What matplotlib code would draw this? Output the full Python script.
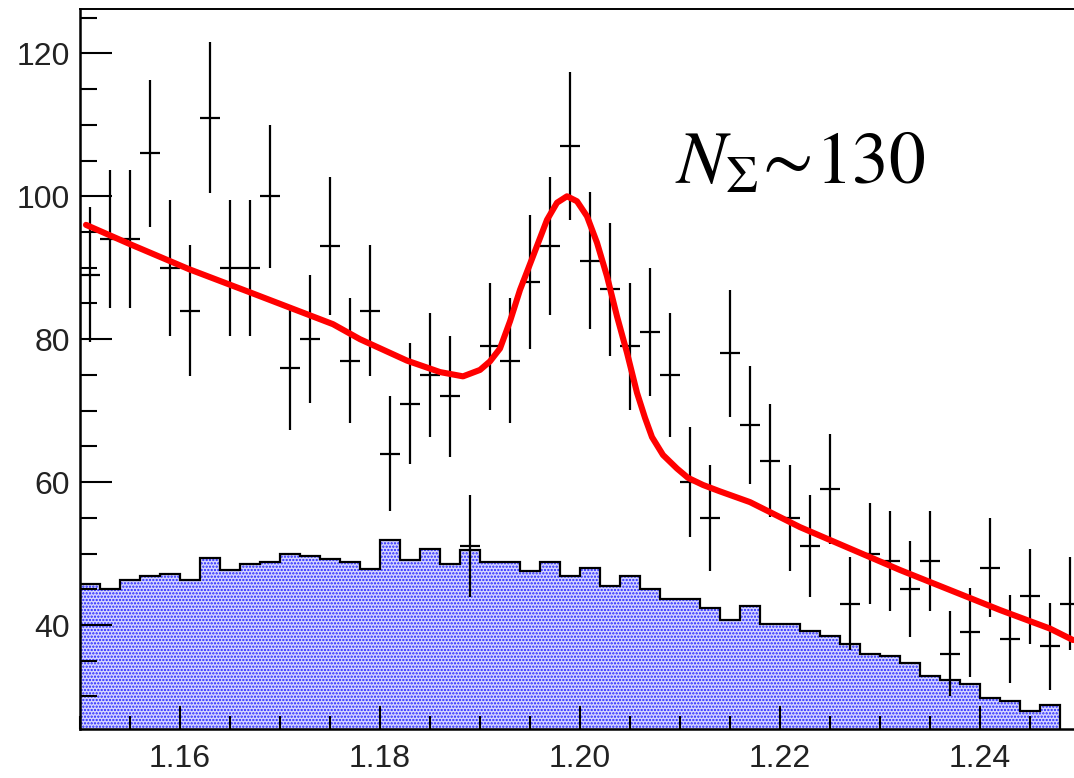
import numpy as np
import matplotlib
matplotlib.use("Agg")
import matplotlib.pyplot as plt
from matplotlib.ticker import MultipleLocator, FixedLocator, FormatStrFormatter

# ---- data ----
bin_edges = np.round(np.arange(1.150, 1.2501, 0.002), 4)
data_counts = [89, 94, 94, 106, 90, 84, 111, 90, 90, 100,
               76, 80, 93, 77, 84, 64, 71, 75, 72, 51,
               79, 77, 88, 93, 107, 91, 87, 79, 81, 75,
               60, 55, 78, 68, 63, 55, 51, 59, 43, 50,
               49, 45, 49, 36, 39, 48, 38, 44, 37, 43]
mc_counts = [45.8, 45.1, 46.3, 46.9, 47.2, 46.3, 49.4, 47.7, 48.5, 48.8,
             49.9, 49.6, 49.3, 48.8, 47.9, 51.9, 49.1, 50.6, 48.6, 50.5,
             48.8, 48.8, 47.5, 48.8, 46.9, 48.0, 45.5, 46.8, 45.0, 43.6,
             43.6, 42.4, 40.7, 42.7, 40.2, 40.2, 39.2, 38.4, 37.4, 35.9,
             35.6, 34.7, 32.9, 32.3, 31.7, 29.8, 29.4, 27.9, 28.8, 0.0]
fit_x = [1.1506, 1.1550, 1.1609, 1.1671, 1.1753, 1.1780, 1.1827, 1.1860,
         1.1883, 1.1900, 1.1910, 1.1920, 1.1930, 1.1940, 1.1953, 1.1967,
         1.1977, 1.1987, 1.1997, 1.2007, 1.2017, 1.2027, 1.2037, 1.2047,
         1.2057, 1.2065, 1.2072, 1.2083, 1.2097, 1.2108, 1.2123, 1.2140,
         1.2170, 1.2220, 1.2270, 1.2320, 1.2370, 1.2420, 1.2470, 1.2493]
fit_y = [96.0, 93.3, 89.8, 86.5, 82.1, 80.0, 77.0, 75.4,
         74.8, 75.7, 76.9, 78.7, 82.5, 86.9, 91.6, 96.7,
         99.1, 100.0, 99.3, 97.2, 93.5, 88.8, 83.2, 78.1,
         72.5, 69.0, 66.3, 63.8, 61.9, 60.6, 59.6, 58.7,
         57.2, 53.7, 50.7, 47.7, 44.9, 42.1, 39.5, 37.9]
x_major = [1.16, 1.18, 1.20, 1.22, 1.24]
y_major = [40, 60, 80, 100, 120]
label_text = r"$N_{\Sigma}\!\sim\!130$"

# ---- figure ----
plt.rcParams["font.family"] = ["Liberation Sans", "DejaVu Sans"]
plt.rcParams["mathtext.fontset"] = "stix"
plt.rcParams["hatch.linewidth"] = 1.1

W, H = 1074, 778
fig = plt.figure(figsize=(W / 100, H / 100), dpi=100)
ax = fig.add_axes([80 / W, 49 / H, 1000 / W, 720.3 / H])

edges = np.array(bin_edges)
centers = 0.5 * (edges[:-1] + edges[1:])
data = np.array(data_counts, dtype=float)
mc = np.array(mc_counts)

# MC histogram (filled, dotted)
ax.stairs(mc, edges, fill=True, facecolor="#d6d6ff", edgecolor="#2020ff",
          hatch=".....", linewidth=0, zorder=1)
ax.stairs(mc, edges, baseline=None, color="black", linewidth=1.6, zorder=2)

# data points with errors
ax.errorbar(centers, data, xerr=0.001, yerr=np.sqrt(data), fmt="none",
            ecolor="black", elinewidth=1.6, capsize=0, zorder=3)

# fit curve
ax.plot(fit_x, fit_y, color="#ff0000", linewidth=4.4, solid_capstyle="round",
        solid_joinstyle="round", zorder=4)

ax.set_xlim(1.15, 1.25)
ax.set_ylim(25.45, 126.25)

ax.xaxis.set_major_locator(FixedLocator(x_major))
ax.xaxis.set_minor_locator(MultipleLocator(0.005))
ax.yaxis.set_major_locator(FixedLocator(y_major))
ax.yaxis.set_minor_locator(MultipleLocator(5))
ax.xaxis.set_major_formatter(FormatStrFormatter("%.2f"))

ax.tick_params(axis="both", which="both", direction="in", top=False, right=False,
               width=1.5, colors="black", labelcolor="#222222", labelsize=23)
ax.tick_params(axis="y", which="major", length=23, pad=7)
ax.tick_params(axis="y", which="minor", length=12)
ax.tick_params(axis="x", which="major", length=16.5, pad=11)
ax.tick_params(axis="x", which="minor", length=9.5)

for s in ["left", "bottom"]:
    ax.spines[s].set_linewidth(1.8)
ax.spines["top"].set_linewidth(1.4)
ax.spines["right"].set_visible(False)

ax.text(1.2095, 101.9, label_text, fontsize=53, ha="left", va="baseline",
        color="black", zorder=5)

fig.savefig("out.png", dpi=100)
